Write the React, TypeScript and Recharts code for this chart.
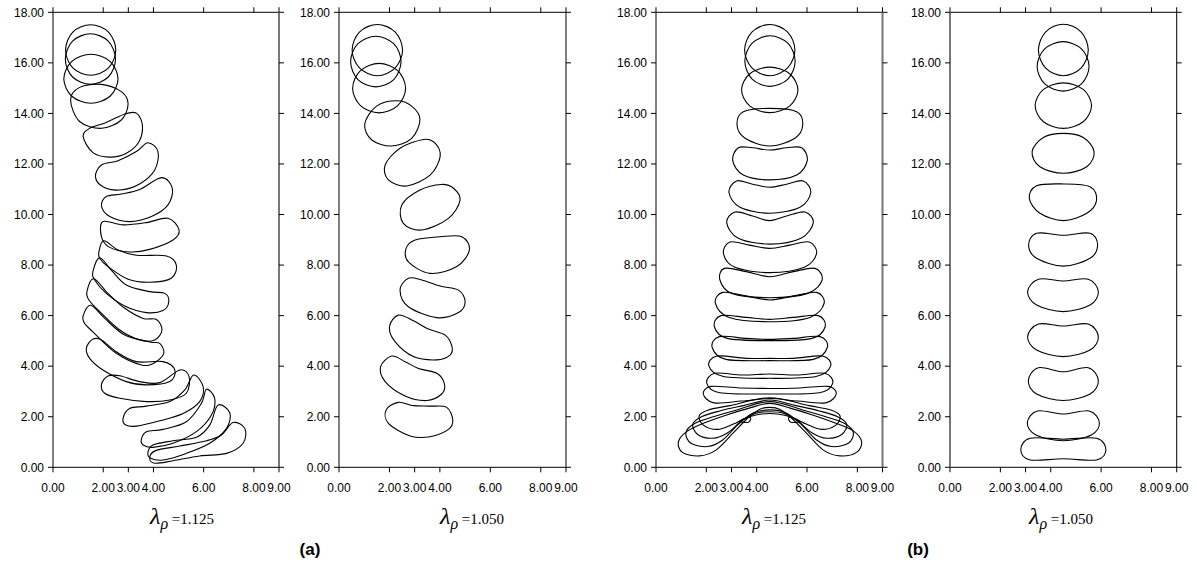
import { LineChart, Line, XAxis, YAxis } from "recharts";

type Pt = [number, number];
type Shape = Pt[];

// axis ticks
const xTicks = [0, 2, 3, 4, 6, 8, 9];
const yTicks = [0, 2, 4, 6, 8, 10, 12, 14, 16, 18];

// drop outlines (x, y), panel (a) lambda = 1.125
const dropsA1: Shape[] = [
  [[2.5, 16.51], [2.21, 17.22], [1.5, 17.51], [0.79, 17.22], [0.5, 16.51], [0.79, 15.8], [1.5, 15.51], [2.21, 15.8]],
  [[2.49, 16.15], [2.2, 16.86], [1.49, 17.15], [0.78, 16.86], [0.49, 16.15], [0.78, 15.44], [1.49, 15.15], [2.2, 15.44]],
  [[2.59, 15.37], [2.27, 16.06], [1.51, 16.34], [0.75, 16.06], [0.43, 15.37], [0.75, 14.68], [1.51, 14.4], [2.27, 14.68]],
  [[0.7, 14.53], [1.06, 15.03], [1.93, 15.15], [2.72, 14.86], [2.99, 14.38], [2.72, 13.74], [1.93, 13.41], [1.06, 13.68]],
  [[1.2, 13.08], [1.46, 13.41], [2.12, 13.64], [2.86, 13.98], [3.32, 14.01], [3.56, 13.54], [3.43, 12.89], [2.92, 12.42], [2.26, 12.27], [1.59, 12.45]],
  [[1.69, 11.5], [1.93, 11.96], [2.59, 12.13], [3.32, 12.49], [3.78, 12.84], [4.18, 12.49], [4.05, 11.76], [3.45, 11.21], [2.66, 10.97], [1.99, 11.1]],
  [[1.93, 10.34], [2.12, 10.71], [2.72, 10.81], [3.45, 10.99], [4.32, 11.46], [4.75, 11.04], [4.58, 10.38], [3.92, 9.92], [3.05, 9.72], [2.26, 9.92]],
  [[1.99, 9.72], [2.79, 9.59], [3.72, 9.68], [4.58, 9.85], [5.02, 9.39], [4.78, 8.99], [3.85, 8.62], [3.05, 8.52], [2.26, 8.7], [1.93, 9.12]],
  [[1.83, 8.53], [2.02, 8.96], [2.59, 8.6], [3.32, 8.39], [4.52, 8.36], [4.91, 8.0], [4.71, 7.48], [3.85, 7.32], [2.99, 7.44], [2.19, 7.94], [1.86, 8.27]],
  [[1.59, 7.74], [1.86, 8.29], [2.32, 7.8], [2.92, 7.21], [3.85, 6.95], [4.45, 6.88], [4.61, 6.55], [4.38, 6.2], [3.72, 6.12], [2.92, 6.35], [2.12, 6.88], [1.66, 7.41]],
  [[1.35, 6.95], [1.62, 7.46], [2.19, 6.88], [2.86, 6.29], [3.59, 5.89], [4.12, 5.85], [4.34, 5.43], [4.05, 5.04], [3.45, 5.04], [2.66, 5.43], [1.86, 6.16], [1.43, 6.62]],
  [[1.2, 5.99], [1.5, 6.41], [2.06, 5.89], [2.86, 5.23], [3.85, 4.96], [4.25, 4.9], [4.41, 4.51], [4.05, 4.14], [3.52, 4.05], [2.52, 4.51], [1.59, 5.36], [1.26, 5.69]],
  [[1.33, 4.71], [1.57, 5.06], [1.93, 5.04], [2.52, 4.57], [3.32, 4.18], [4.38, 4.18], [4.85, 3.85], [4.65, 3.39], [3.72, 3.26], [2.92, 3.39], [1.99, 3.85], [1.46, 4.31]],
  [[1.93, 3.28], [2.19, 3.61], [2.66, 3.62], [3.45, 3.39], [4.25, 3.35], [5.05, 3.85], [5.42, 3.59], [5.31, 2.93], [4.65, 2.66], [3.72, 2.6], [2.66, 2.73], [2.06, 2.93]],
  [[2.79, 1.94], [3.05, 2.33], [3.72, 2.42], [4.65, 2.6], [5.25, 3.06], [5.6, 3.65], [5.98, 3.19], [5.84, 2.6], [5.18, 2.13], [4.25, 1.84], [3.32, 1.63], [2.9, 1.67]],
  [[3.52, 1.11], [3.72, 1.41], [4.38, 1.5], [5.31, 1.8], [5.91, 2.53], [6.11, 3.09], [6.44, 2.73], [6.31, 2.07], [5.71, 1.41], [4.78, 0.95], [3.98, 0.79], [3.59, 0.88]],
  [[3.78, 0.58], [3.98, 0.88], [4.78, 1.05], [5.71, 1.19], [6.24, 1.67], [6.57, 2.46], [7.04, 2.16], [6.91, 1.54], [6.24, 0.95], [5.31, 0.55], [4.38, 0.29], [3.89, 0.36]],
  [[3.85, 0.38], [4.09, 0.66], [5.05, 0.84], [6.11, 1.05], [6.71, 1.28], [7.17, 1.77], [7.64, 1.54], [7.57, 0.95], [6.91, 0.55], [5.84, 0.45], [4.78, 0.26], [4.05, 0.16]],
];

// panel (a) lambda = 1.050
const dropsA2: Shape[] = [
  [[2.52, 16.51], [2.23, 17.22], [1.52, 17.52], [0.81, 17.22], [0.52, 16.51], [0.81, 15.8], [1.52, 15.49], [2.23, 15.8]],
  [[2.46, 16.05], [2.17, 16.76], [1.46, 17.05], [0.75, 16.76], [0.46, 16.05], [0.75, 15.34], [1.46, 15.05], [2.17, 15.34]],
  [[2.64, 15.0], [2.33, 15.69], [1.59, 15.98], [0.85, 15.69], [0.54, 15.0], [0.85, 14.31], [1.59, 14.02], [2.33, 14.31]],
  [[3.21, 13.76], [2.88, 14.29], [2.29, 14.5], [1.49, 14.29], [1.02, 13.58], [1.3, 12.95], [2.09, 12.71], [2.88, 13.01]],
  [[4.01, 12.29], [3.81, 12.82], [3.35, 12.97], [2.42, 12.62], [1.83, 11.96], [1.96, 11.37], [2.69, 11.13], [3.61, 11.56]],
  [[4.8, 10.57], [4.54, 11.04], [4.07, 11.19], [3.21, 10.97], [2.49, 10.38], [2.55, 9.65], [3.28, 9.39], [4.34, 9.85]],
  [[5.17, 8.6], [4.87, 9.12], [4.01, 9.12], [3.02, 8.99], [2.66, 8.66], [2.75, 8.13], [3.61, 7.67], [4.67, 7.94]],
  [[5.0, 6.55], [4.74, 7.01], [4.01, 7.17], [3.28, 7.41], [2.75, 7.48], [2.42, 7.01], [2.75, 6.35], [3.88, 5.92], [4.74, 6.12]],
  [[4.48, 4.77], [4.21, 5.23], [3.54, 5.47], [2.95, 5.8], [2.35, 6.02], [2.0, 5.56], [2.22, 4.97], [2.95, 4.38], [3.88, 4.25], [4.4, 4.44]],
  [[4.18, 3.3], [3.88, 3.72], [3.15, 3.91], [2.62, 4.18], [2.09, 4.4], [1.65, 3.98], [1.83, 3.39], [2.62, 2.82], [3.48, 2.64], [4.07, 2.9]],
  [[4.51, 1.87], [4.27, 2.37], [3.61, 2.42], [2.95, 2.44], [2.35, 2.57], [1.87, 2.27], [1.96, 1.74], [2.82, 1.24], [3.61, 1.21], [4.34, 1.5]],
];

// panel (b) lambda = 1.125
const dropsB1: Shape[] = [
  [[5.52, 16.51], [5.23, 17.22], [4.52, 17.52], [3.81, 17.22], [3.52, 16.51], [3.81, 15.8], [4.52, 15.49], [5.23, 15.8]],
  [[5.53, 16.07], [5.24, 16.78], [4.53, 17.07], [3.82, 16.78], [3.53, 16.07], [3.82, 15.36], [4.53, 15.07], [5.24, 15.36]],
  [[5.64, 14.93], [5.31, 15.57], [4.52, 15.83], [3.73, 15.57], [3.4, 14.93], [3.73, 14.29], [4.52, 14.03], [5.31, 14.29]],
  [[5.83, 13.54], [5.59, 14.07], [4.52, 14.2], [3.47, 14.07], [3.22, 13.54], [3.54, 13.02], [4.52, 12.71], [5.52, 13.02]],
  [[6.01, 12.13], [5.79, 12.64], [5.19, 12.64], [4.52, 12.55], [3.84, 12.64], [3.27, 12.64], [3.05, 12.13], [3.47, 11.56], [4.52, 11.37], [5.59, 11.56]],
  [[6.15, 10.87], [5.85, 11.33], [5.19, 11.2], [4.52, 11.08], [3.84, 11.2], [3.2, 11.33], [2.9, 10.87], [3.34, 10.29], [4.52, 10.05], [5.72, 10.29]],
  [[6.25, 9.68], [5.92, 10.1], [5.19, 9.94], [4.52, 9.76], [3.84, 9.94], [3.14, 10.1], [2.81, 9.68], [3.27, 9.06], [4.52, 8.83], [5.76, 9.06]],
  [[6.38, 8.46], [6.09, 8.91], [5.32, 8.79], [4.52, 8.66], [3.71, 8.79], [2.94, 8.91], [2.68, 8.46], [3.14, 7.91], [4.52, 7.7], [5.89, 7.91]],
  [[6.6, 7.41], [6.32, 7.87], [5.46, 7.74], [4.52, 7.54], [3.58, 7.74], [2.72, 7.87], [2.54, 7.41], [3.01, 6.88], [4.52, 6.71], [6.03, 6.88]],
  [[6.68, 6.49], [6.38, 6.92], [5.46, 6.78], [4.52, 6.62], [3.58, 6.78], [2.65, 6.92], [2.36, 6.49], [2.91, 5.93], [4.52, 5.76], [6.12, 5.93]],
  [[6.72, 5.56], [6.45, 6.0], [5.46, 5.93], [4.52, 5.85], [3.58, 5.93], [2.58, 6.0], [2.32, 5.56], [2.83, 5.1], [4.52, 5.01], [6.2, 5.1]],
  [[6.81, 4.75], [6.52, 5.17], [5.46, 5.1], [4.52, 5.06], [3.58, 5.1], [2.52, 5.17], [2.23, 4.75], [2.78, 4.27], [4.52, 4.22], [6.25, 4.27]],
  [[6.94, 4.01], [6.62, 4.4], [5.46, 4.31], [4.52, 4.31], [3.58, 4.31], [2.42, 4.4], [2.1, 4.01], [2.68, 3.59], [4.52, 3.52], [6.36, 3.59]],
  [[7.02, 3.32], [6.71, 3.72], [5.59, 3.65], [4.52, 3.69], [3.44, 3.65], [2.33, 3.72], [2.02, 3.32], [2.54, 2.95], [4.52, 2.9], [6.49, 2.95]],
  [[7.16, 2.9], [6.85, 3.2], [5.72, 3.14], [4.52, 3.12], [3.32, 3.14], [2.19, 3.2], [1.88, 2.9], [2.3, 2.55], [3.4, 2.62], [4.52, 2.72], [5.64, 2.62], [6.74, 2.55]],
  [[1.72, 2.04], [2.08, 2.27], [2.94, 2.44], [4.52, 2.75], [6.09, 2.44], [6.95, 2.27], [7.31, 2.04], [7.15, 1.67], [6.58, 1.5], [5.99, 1.7], [5.32, 2.0], [4.52, 2.13], [3.71, 2.0], [3.05, 1.7], [2.45, 1.5], [1.88, 1.67]],
  [[1.46, 1.7], [1.81, 2.0], [2.54, 2.23], [3.47, 2.44], [4.52, 2.66], [5.56, 2.44], [6.49, 2.23], [7.22, 2.0], [7.58, 1.7], [7.38, 1.3], [6.78, 1.15], [6.19, 1.37], [5.59, 1.87], [5.06, 2.14], [4.52, 2.2], [3.97, 2.14], [3.44, 1.87], [2.85, 1.37], [2.25, 1.15], [1.66, 1.3]],
  [[1.19, 1.38], [1.55, 1.74], [2.28, 2.0], [3.21, 2.27], [4.52, 2.6], [5.83, 2.27], [6.75, 2.0], [7.48, 1.74], [7.84, 1.38], [7.64, 0.95], [6.98, 0.82], [6.38, 1.08], [5.79, 1.68], [5.19, 2.14], [4.52, 2.27], [3.84, 2.14], [3.25, 1.68], [2.65, 1.08], [2.05, 0.82], [1.39, 0.95]],
  [[0.89, 1.01], [1.22, 1.41], [1.88, 1.74], [2.81, 2.07], [3.67, 2.33], [4.52, 2.53], [5.36, 2.33], [6.22, 2.07], [7.15, 1.74], [7.84, 1.44], [8.17, 1.01], [7.97, 0.59], [7.31, 0.45], [6.65, 0.68], [5.99, 1.34], [5.39, 1.94], [4.93, 2.29], [4.52, 2.37], [4.11, 2.29], [3.64, 1.94], [3.05, 1.34], [2.38, 0.68], [1.72, 0.45], [1.05, 0.59]],
  [[3.34, 1.81], [3.53, 1.94], [3.76, 1.96], [3.67, 1.78]],
  [[5.7, 1.81], [5.5, 1.94], [5.27, 1.96], [5.36, 1.78]],
];

// panel (b) lambda = 1.050
const dropsB2: Shape[] = [
  [[5.49, 16.51], [5.2, 17.23], [4.5, 17.53], [3.8, 17.23], [3.51, 16.51], [3.8, 15.79], [4.5, 15.49], [5.2, 15.79]],
  [[5.52, 15.86], [5.22, 16.55], [4.49, 16.84], [3.76, 16.55], [3.46, 15.86], [3.76, 15.17], [4.49, 14.88], [5.22, 15.17]],
  [[5.62, 14.31], [5.29, 14.95], [4.5, 15.21], [3.71, 14.95], [3.38, 14.31], [3.71, 13.67], [4.5, 13.41], [5.29, 13.67]],
  [[5.72, 12.49], [5.29, 13.05], [4.5, 13.21], [3.71, 13.05], [3.26, 12.49], [3.57, 11.89], [4.5, 11.63], [5.43, 11.89]],
  [[5.82, 10.57], [5.56, 11.1], [4.5, 11.21], [3.44, 11.14], [3.15, 10.64], [3.57, 10.05], [4.5, 9.76], [5.43, 10.05]],
  [[5.86, 8.79], [5.56, 9.26], [4.5, 9.18], [3.44, 9.26], [3.12, 8.79], [3.44, 8.27], [4.5, 7.96], [5.56, 8.27]],
  [[5.89, 6.95], [5.49, 7.44], [4.5, 7.37], [3.51, 7.44], [3.08, 6.95], [3.44, 6.42], [4.5, 6.16], [5.56, 6.42]],
  [[5.89, 5.17], [5.49, 5.67], [4.5, 5.59], [3.51, 5.67], [3.08, 5.17], [3.44, 4.64], [4.5, 4.38], [5.56, 4.64]],
  [[5.89, 3.43], [5.49, 3.94], [4.5, 3.78], [3.51, 3.94], [3.11, 3.43], [3.44, 2.9], [4.5, 2.64], [5.56, 2.9]],
  [[5.93, 1.76], [5.53, 2.23], [4.5, 2.11], [3.47, 2.23], [3.07, 1.76], [3.41, 1.28], [4.5, 1.05], [5.61, 1.28]],
  [[6.19, 0.69], [5.82, 1.15], [4.5, 1.11], [3.18, 1.15], [2.81, 0.69], [3.18, 0.29], [4.5, 0.34], [5.82, 0.29]],
];

const lambdaValues = ["1.125", "1.050", "1.125", "1.050"];
const groupNames = ["(a)", "(b)"];

// closed Catmull-Rom curve through the outline points
const closedSmooth = (context: any) => {
  let pts: number[][] = [];
  return {
    areaStart() {},
    areaEnd() {},
    lineStart() {
      pts = [];
    },
    point(x: number, y: number) {
      pts.push([+x, +y]);
    },
    lineEnd() {
      const n = pts.length;
      if (n < 3) return;
      context.moveTo(pts[0][0], pts[0][1]);
      for (let i = 0; i < n; i++) {
        const p0 = pts[(i - 1 + n) % n];
        const p1 = pts[i];
        const p2 = pts[(i + 1) % n];
        const p3 = pts[(i + 2) % n];
        context.bezierCurveTo(
          p1[0] + (p2[0] - p0[0]) / 6,
          p1[1] + (p2[1] - p0[1]) / 6,
          p2[0] - (p3[0] - p1[0]) / 6,
          p2[1] - (p3[1] - p1[1]) / 6,
          p2[0],
          p2[1]
        );
      }
      context.closePath();
    },
  };
};

const AXIS_FONT = { fill: "#000", fontSize: 12, fontFamily: "'Liberation Sans', Arial, sans-serif" };
const fmt = (v: number) => v.toFixed(2);
const blank = () => "";

function Panel({ shapes, plotLeft, plotWidth, leftColor, rightColor }: { shapes: Shape[]; plotLeft: number; plotWidth: number; leftColor: string; rightColor: string }) {
  const yW = 55;
  return (
    <div style={{ position: "absolute", left: plotLeft - yW, top: 0 }}>
      <LineChart width={yW + plotWidth + 20} height={502.3} margin={{ top: 11.3, right: 19, bottom: 0, left: 0 }}>
        <XAxis dataKey="x" type="number" domain={[0, 9]} ticks={xTicks} interval={0} tickFormatter={fmt} allowDataOverflow
          height={35} tickSize={5} tickMargin={11} tick={AXIS_FONT} axisLine={{ stroke: "#000" }} tickLine={{ stroke: "#000" }} />
        <XAxis xAxisId="top" orientation="top" dataKey="x" type="number" domain={[0, 9]} ticks={xTicks} interval={0} tickFormatter={blank} allowDataOverflow
          height={1} tickSize={5} axisLine={{ stroke: "#000" }} tickLine={{ stroke: "#000" }} />
        <YAxis type="number" domain={[0, 18]} ticks={yTicks} interval={0} tickFormatter={fmt} allowDataOverflow
          width={yW} tickSize={5} tickMargin={4} tick={AXIS_FONT} axisLine={{ stroke: leftColor, strokeWidth: leftColor === "#000" ? 1 : 2 }} tickLine={{ stroke: "#000" }} />
        <YAxis yAxisId="right" orientation="right" type="number" domain={[0, 18]} ticks={yTicks} interval={0} tickFormatter={blank} allowDataOverflow
          width={1} tickSize={5} axisLine={{ stroke: rightColor, strokeWidth: rightColor === "#000" ? 1 : 2 }} tickLine={{ stroke: "#000" }} />
        {shapes.map((s, i) => (
          <Line key={i} data={s.map(([x, y]) => ({ x, y }))} dataKey="y" type={closedSmooth as any}
            xAxisId={i === 0 ? "top" : 0} yAxisId={i === 0 ? "right" : 0}
            stroke="#000" strokeWidth={1.1} dot={false} activeDot={false} isAnimationActive={false} />
        ))}
      </LineChart>
    </div>
  );
}

function LambdaLabel({ center, value }: { center: number; value: string }) {
  return (
    <div style={{ position: "absolute", left: center - 60, top: 503, width: 120, textAlign: "center", fontFamily: "'Liberation Serif', 'Times New Roman', serif", whiteSpace: "nowrap" }}>
      <span style={{ fontStyle: "italic", fontSize: 24 }}>λ</span>
      <span style={{ fontStyle: "italic", fontSize: 16, position: "relative", top: 5 }}>ρ</span>
      <span style={{ fontSize: 15 }}> =</span>
      <span style={{ fontSize: 15 }}>{value}</span>
    </div>
  );
}

export default function App() {
  const panels = [
    { shapes: dropsA1, plotLeft: 53.3, plotWidth: 226, leftColor: "#000", rightColor: "#777" },
    { shapes: dropsA2, plotLeft: 339, plotWidth: 227, leftColor: "#000", rightColor: "#000" },
    { shapes: dropsB1, plotLeft: 656, plotWidth: 226.5, leftColor: "#000", rightColor: "#777" },
    { shapes: dropsB2, plotLeft: 950, plotWidth: 226.7, leftColor: "#777", rightColor: "#000" },
  ];
  const labelCenters = [182, 472, 774, 1061];
  const groupCenters = [310, 918];
  return (
    <div style={{ position: "absolute", left: 0, top: 0, width: 1197, height: 571, background: "#fff", overflow: "hidden" }}>
      {panels.map((p, i) => (
        <Panel key={i} {...p} />
      ))}
      {lambdaValues.map((v, i) => (
        <LambdaLabel key={i} center={labelCenters[i]} value={v} />
      ))}
      {groupNames.map((g, i) => (
        <div key={g} style={{ position: "absolute", left: groupCenters[i] - 30, top: 540, width: 60, textAlign: "center", fontFamily: "'Liberation Sans', Arial, sans-serif", fontWeight: "bold", fontSize: 17 }}>
          {g}
        </div>
      ))}
    </div>
  );
}
